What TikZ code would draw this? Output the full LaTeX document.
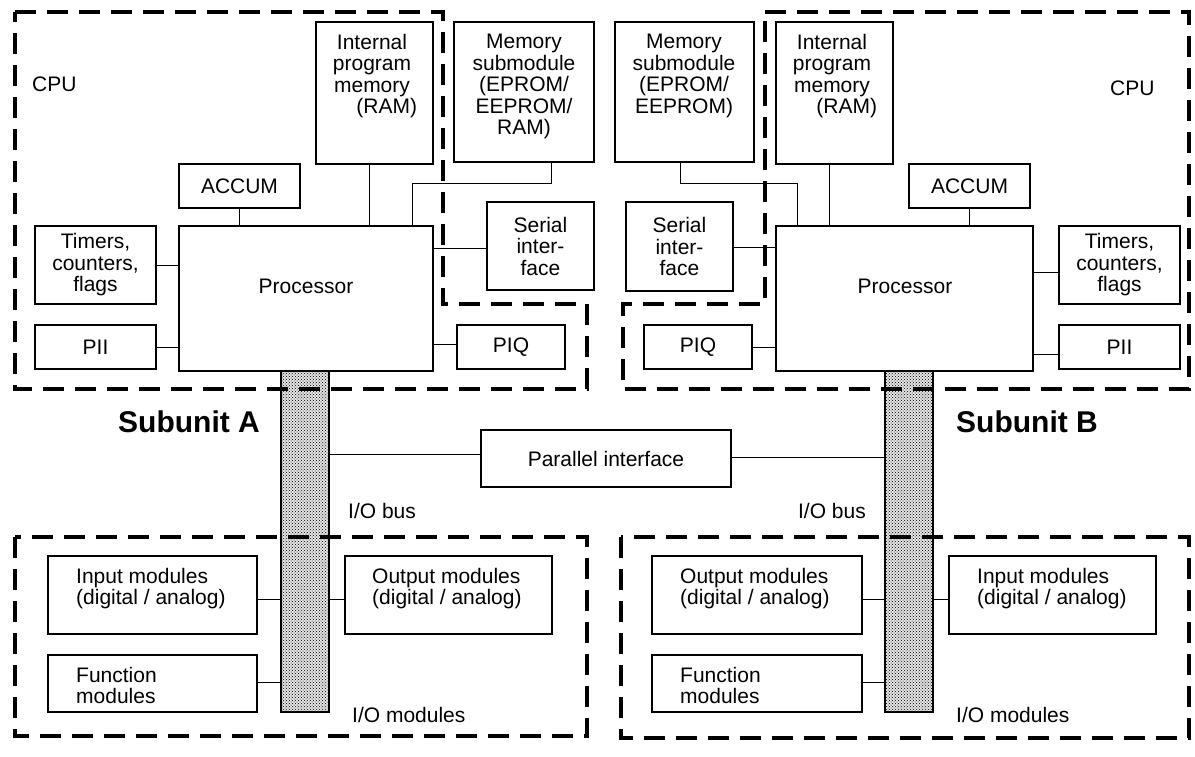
\documentclass[tikz,border=0pt]{standalone}
\usepackage{fontspec}
\setmainfont{Liberation Sans}
\usetikzlibrary{patterns}
\tikzset{
  txt/.style={font=\fontsize{21}{21.5}\selectfont, inner sep=0pt},
  box/.style={draw, rectangle, line width=1.2pt, inner sep=0pt, txt, align=center},
  wire/.style={line width=1pt},
  region/.style={line width=4pt, dash pattern=on 21pt off 11pt},
  busbar/.style={draw, rectangle, line width=1.4pt, preaction={fill=gray!22}, pattern=crosshatch dots, inner sep=0pt},
  headline/.style={font=\fontsize{30}{32}\selectfont\bfseries, inner sep=0pt},
}
\newcommand{\bx}[6]{\node[box, minimum width={(#4-#2)*1pt}, minimum height={(#5-#3)*1pt}] (#1) at ({(#2+#4)/2},{(#3+#5)/2}) {#6};}
\begin{document}
\begin{tikzpicture}[x=1pt,y=-1pt]
\useasboundingbox (0,0) rectangle (1195,756);
\fill[white] (0,0) rectangle (1195,756);

% buses
\node[busbar, minimum width=48pt, minimum height=341pt] (busA) at (305,541.5) {};
\node[busbar, minimum width=48pt, minimum height=341pt] (busB) at (909,541.5) {};

% Subunit A boxes
\bx{ipmA}{316}{22}{433}{164}{}
\bx{memA}{454}{22}{594}{162}{}
\bx{accA}{179}{164}{300}{208}{ACCUM}
\bx{procA}{179}{226}{433}{371}{}
\bx{timA}{35}{226}{156}{304}{Timers,\\counters,\\flags}
\bx{piiA}{35}{325}{156}{369}{PII}
\bx{serA}{487}{202}{594}{290}{Serial\\inter-\\face}
\bx{piqA}{457}{325}{565}{369}{PIQ}
\bx{inA}{48}{556}{257}{634}{}
\bx{fnA}{48}{655}{257}{712}{}
\bx{outA}{345}{556}{552}{634}{}

% Subunit B boxes
\bx{memB}{615}{22}{754}{162}{}
\bx{ipmB}{776}{22}{893}{164}{}
\bx{accB}{909}{164}{1030}{208}{ACCUM}
\bx{procB}{776}{226}{1033}{371}{}
\bx{timB}{1059}{226}{1180}{304}{Timers,\\counters,\\flags}
\bx{piiB}{1059}{325}{1180}{369}{PII}
\bx{serB}{626}{202}{733}{291}{Serial\\inter-\\face}
\bx{piqB}{644}{325}{752}{369}{PIQ}
\bx{outB}{652}{556}{862}{634}{}
\bx{fnB}{652}{655}{862}{712}{}
\bx{inB}{949}{556}{1156}{634}{}

\bx{par}{481}{430}{731}{487}{Parallel interface}

% texts inside boxes
\node[txt, align=center, anchor=north] (ipmAt) at (372,34) {Internal\\program\\memory\\\hspace*{1.4em}(RAM)};
\node[txt, align=center, anchor=north] (memAt) at (524,34) {Memory\\submodule\\(EPROM/\\EEPROM/\\RAM)};
\node[txt, align=center, anchor=north] (memBt) at (684,34) {Memory\\submodule\\(EPROM/\\EEPROM)};
\node[txt, align=center, anchor=north] (ipmBt) at (832,34) {Internal\\program\\memory\\\hspace*{1.4em}(RAM)};
\node[txt] (procAt) at (306,286) {Processor};
\node[txt] (procBt) at (905,286) {Processor};
\node[txt, align=left, anchor=north west] (inAt) at (76,568) {Input modules\\(digital / analog)};
\node[txt, align=left, anchor=north west] (fnAt) at (76,667) {Function\\modules};
\node[txt, align=left, anchor=north west] (outAt) at (372,568) {Output modules\\(digital / analog)};
\node[txt, align=left, anchor=north west] (outBt) at (680,568) {Output modules\\(digital / analog)};
\node[txt, align=left, anchor=north west] (fnBt) at (680,667) {Function\\modules};
\node[txt, align=left, anchor=north west] (inBt) at (977,568) {Input modules\\(digital / analog)};

% free labels
\node[txt, anchor=west] (cpuA) at (32,84) {CPU};
\node[txt, anchor=west] (cpuB) at (1110,88) {CPU};
\node[headline, anchor=west] (subA) at (118,422) {Subunit A};
\node[headline, anchor=west] (subB) at (956,422) {Subunit B};
\node[txt, anchor=west] (iobA) at (348,511) {I/O bus};
\node[txt, anchor=east] (iobB) at (866,511) {I/O bus};
\node[txt, anchor=west] (iomA) at (352,715) {I/O modules};
\node[txt, anchor=west] (iomB) at (956,715) {I/O modules};

% connectors A
\draw[wire] (accA.south) -- (accA.south |- procA.north);
\coordinate (ipmAc) at (369,164);
\draw[wire] (ipmAc) -- (ipmAc |- procA.north);
\coordinate (memAc) at (551,162);
\coordinate (memAk) at (412,183);
\draw[wire] (memAc) |- (memAk) -- (memAk |- procA.north);
\draw[wire] (timA.east) -- (timA.east -| procA.west);
\draw[wire] (piiA.east) -- (piiA.east -| procA.west);
\coordinate (serAc) at (487,248);
\draw[wire] (serAc) -- (serAc -| procA.east);
\coordinate (piqAc) at (457,344);
\draw[wire] (piqAc) -- (piqAc -| procA.east);
\coordinate (parAc) at (481,454);
\draw[wire] (parAc) -- (parAc -| busA.east);
\coordinate (inAc) at (257,599);
\draw[wire] (inAc) -- (inAc -| busA.west);
\coordinate (fnAc) at (257,682);
\draw[wire] (fnAc) -- (fnAc -| busA.west);
\coordinate (outAc) at (345,599);
\draw[wire] (outAc) -- (outAc -| busA.east);

% connectors B
\draw[wire] (accB.south) -- (accB.south |- procB.north);
\coordinate (ipmBc) at (829,164);
\draw[wire] (ipmBc) -- (ipmBc |- procB.north);
\coordinate (memBc) at (680,162);
\coordinate (memBk) at (797,183);
\draw[wire] (memBc) |- (memBk) -- (memBk |- procB.north);
\coordinate (timBc) at (1059,272);
\draw[wire] (timBc) -- (timBc -| procB.east);
\coordinate (piiBc) at (1059,354);
\draw[wire] (piiBc) -- (piiBc -| procB.east);
\coordinate (serBc) at (733,247);
\draw[wire] (serBc) -- (serBc -| procB.west);
\coordinate (piqBc) at (752,347);
\draw[wire] (piqBc) -- (piqBc -| procB.west);
\coordinate (parBc) at (731,457);
\draw[wire] (parBc) -- (parBc -| busB.west);
\coordinate (outBc) at (862,599);
\draw[wire] (outBc) -- (outBc -| busB.west);
\coordinate (fnBc) at (862,682);
\draw[wire] (fnBc) -- (fnBc -| busB.west);
\coordinate (inBc) at (949,599);
\draw[wire] (inBc) -- (inBc -| busB.east);

% dashed regions
\draw[region] (15,12) -- (443,12) -- (443,304) -- (587,304) -- (587,389) -- (15,389) -- cycle;
\draw[region] (765,12) -- (1189,12) -- (1189,389) -- (623,389) -- (623,304) -- (765,304) -- cycle;
\draw[region] (15,537) rectangle (587,736);
\draw[region] (621,537) rectangle (1189,738);
\end{tikzpicture}
\end{document}
